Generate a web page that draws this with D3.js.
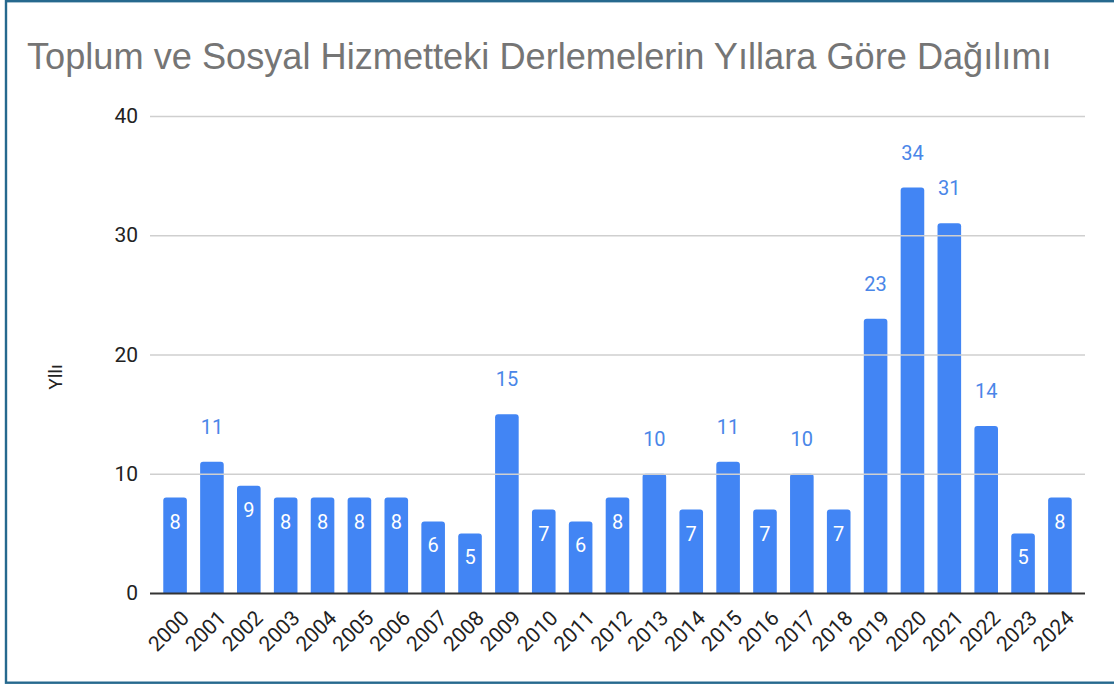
<!DOCTYPE html>
<html>
<head>
<meta charset="utf-8">
<script src="https://cdn.jsdelivr.net/npm/d3@7"></script>
<style>
  body { margin: 0; background: #fff; }
  text { font-family: Roboto, "Liberation Sans", sans-serif; }
</style>
</head>
<body>
<div id="chart"></div>
<script>
var years = ["2000", "2001", "2002", "2003", "2004", "2005", "2006", "2007", "2008", "2009",
    "2010", "2011", "2012", "2013", "2014", "2015", "2016", "2017", "2018", "2019",
    "2020", "2021", "2022", "2023", "2024"];
var counts = [8, 11, 9, 8, 8, 8, 8, 6, 5, 15, 7, 6, 8, 10, 7, 11, 7, 10, 7, 23, 34, 31, 14, 5, 8];
var yTicks = [0, 10, 20, 30, 40];
var chartTitle = "Toplum ve Sosyal Hizmetteki Derlemelerin Yıllara Göre Dağılımı";
var yTitle = "Yllı";

var W = 1114, H = 684;
var margin = {top: 116, right: 29, bottom: 91, left: 150},
    width = W - margin.left - margin.right,
    height = H - margin.top - margin.bottom;

var svg = d3.select("#chart")
        .append("svg")
        .attr("width", W)
        .attr("height", H);

// frame
svg.append("rect")
        .attr("x", 6)
        .attr("y", 1.2)
        .attr("width", W + 20)
        .attr("height", 681.5)
        .attr("fill", "none")
        .attr("stroke", "#26698e")
        .attr("stroke-width", 2.4);

var x = d3.scaleBand()
        .domain(years)
        .range([0, width])
        .paddingInner(0.36)
        .paddingOuter(0.36);
var y = d3.scaleLinear()
        .domain([0, 40])
        .range([height, 0]);

var canvas = svg.append("g")
        .attr("transform", "translate(" + margin.left + "," + margin.top + ")");

// grid + y labels
var yAxis = canvas.append("g")
        .attr("class", "axis-y")
        .call(d3.axisLeft(y).tickValues(yTicks).tickSize(-width).tickPadding(12));
yAxis.select(".domain").remove();
yAxis.selectAll(".tick line")
        .attr("stroke", function (d) { return d === 0 ? "#333" : "#cfcfcf"; })
        .attr("stroke-width", function (d) { return d === 0 ? 2 : 1.5; });
yAxis.selectAll(".tick text")
        .attr("fill", "#222")
        .style("font-size", "21px");

// bars with rounded tops
var r = 3;
canvas.selectAll(".chart-bar")
        .data(counts)
        .enter()
        .append("path")
        .attr("class", "chart-bar")
        .attr("fill", "#4285f4")
        .attr("d", function (d, i) {
            var x0 = x(years[i]), x1 = x0 + x.bandwidth(), y0 = y(d), yb = y(0);
            return "M" + x0 + "," + yb + "V" + (y0 + r) + "Q" + x0 + "," + y0 + " " + (x0 + r) + "," + y0 +
                    "H" + (x1 - r) + "Q" + x1 + "," + y0 + " " + x1 + "," + (y0 + r) + "V" + yb + "Z";
        });
canvas.select(".axis-y").raise();
yAxis.selectAll(".tick").filter(function (d) { return d !== 0; }).lower();

// value labels
canvas.selectAll(".bar-label")
        .data(counts)
        .enter()
        .append("text")
        .attr("class", "bar-label")
        .attr("x", function (d, i) { return x(years[i]) + x.bandwidth() / 2; })
        .attr("y", function (d) { return d >= 10 ? y(d) - 28 : y(d) + 31; })
        .attr("text-anchor", "middle")
        .attr("fill", function (d) { return d >= 10 ? "#4a86e8" : "#fff"; })
        .style("font-size", "20px")
        .text(function (d) { return d; });

// x labels
var xAxis = canvas.append("g")
        .attr("class", "axis-x")
        .attr("transform", "translate(0," + height + ")")
        .call(d3.axisBottom(x).tickSize(0));
xAxis.select(".domain").remove();
xAxis.selectAll("text")
        .attr("transform", "translate(8,19) rotate(-45)")
        .attr("dy", "0.35em")
        .attr("fill", "#222")
        .style("font-size", "21px")
        .style("text-anchor", "end");

// y title
svg.append("text")
        .attr("transform", "translate(62,377) rotate(-90)")
        .attr("text-anchor", "middle")
        .attr("fill", "#222")
        .style("font-size", "19px")
        .text(yTitle);

// title
var title = svg.append("text")
        .attr("x", 27)
        .attr("y", 69)
        .attr("fill", "#757575")
        .style("font-family", "'Liberation Sans', Arial, sans-serif")
        .style("font-size", "34px")
        .text(chartTitle);
var tw = title.node().getComputedTextLength();
title.style("font-size", (34 * 1025 / tw) + "px");
</script>
</body>
</html>
